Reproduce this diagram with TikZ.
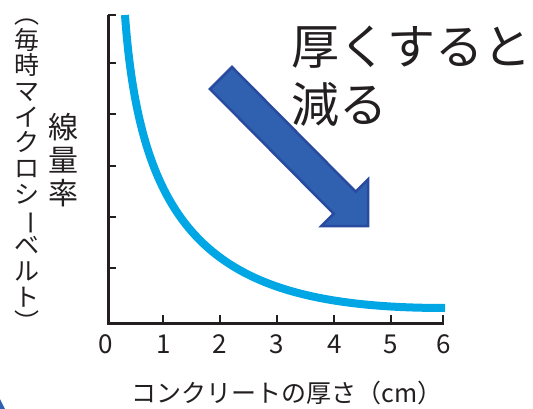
\documentclass[tikz,border=0pt]{standalone}
\usepackage{fontspec}
\setmainfont{Noto Sans CJK JP}
\usepackage{graphicx}
\definecolor{axisc}{RGB}{35,31,32}
\definecolor{curvec}{RGB}{0,167,228}
\definecolor{arrowfill}{RGB}{48,96,176}
\definecolor{arrowedge}{RGB}{40,75,160}
\definecolor{textc}{RGB}{35,31,32}
\tikzset{
  axisline/.style={draw=axisc, line width=3pt},
  tickline/.style={draw=axisc, line width=2pt},
  curveline/.style={draw=curvec, line width=8pt},
  ticklabel/.style={inner sep=0pt, anchor=base, text=textc, font=\fontsize{26}{26}\selectfont},
  bigtext/.style={inner sep=0pt, anchor=base west, text=textc, font=\fontsize{48}{48}\selectfont},
  vlabel/.style={inner sep=0pt, align=center, text=textc},
  fatarrow/.style={fill=arrowfill, draw=arrowedge, line width=2.5pt, line join=miter}
}
\newcommand{\vrot}[1]{\rotatebox[origin=c]{-90}{#1}}
\begin{document}
\begin{tikzpicture}[x=1pt,y=-1pt]
\useasboundingbox (0,0) rectangle (533,409);
% corner fragment
\fill[arrowfill] (0,399) -- (0,409) -- (5,409) -- cycle;
% axes
\draw[axisline] (108,15) -- (108,323) -- (444,323);
\foreach \yy in {15,63,114,166,217,268} \draw[tickline] (108,\yy) -- (116,\yy);
\foreach \xx in {163.3,220,276.7,334.3,391,443.3} \draw[tickline] (\xx,323) -- (\xx,315);
% tick labels
\foreach \xx/\lab [count=\i] in {106/0,163.3/1,220/2,276.7/3,334.3/4,391/5,443.3/6}
  \node[ticklabel] (t\i) at (\xx,353) {\lab};
% curve
\coordinate (cs) at (125,15);
\coordinate (ce) at (445,308);
\draw[curveline] (cs) .. controls (141,240) and (218,308) .. (ce);
% arrow
\draw[fatarrow] (232,67) -- (355.7,191.7) -- (368,179.4) -- (368,226) -- (321.4,226) -- (333.7,213.7) -- (210,89) -- cycle;
% texts
\node[bigtext] (l1) at (291,65) {厚くすると};
\node[bigtext] (l2) at (291,123) {減る};
\node[inner sep=0pt, anchor=base, text=textc, font=\fontsize{25}{25}\selectfont] (xt) at (287,402) {コンクリートの厚さ（cm）};
\node[vlabel, font=\fontsize{30}{33}\selectfont] (yl) at (63,160) {線\\量\\率};
\node[vlabel, font=\fontsize{25}{25.7}\selectfont] (yu) at (27,168) {\vrot{（}\\毎\\時\\マ\\イ\\ク\\ロ\\シ\\\vrot{ー}\\ベ\\ル\\ト\\\vrot{）}};
\end{tikzpicture}
\end{document}
